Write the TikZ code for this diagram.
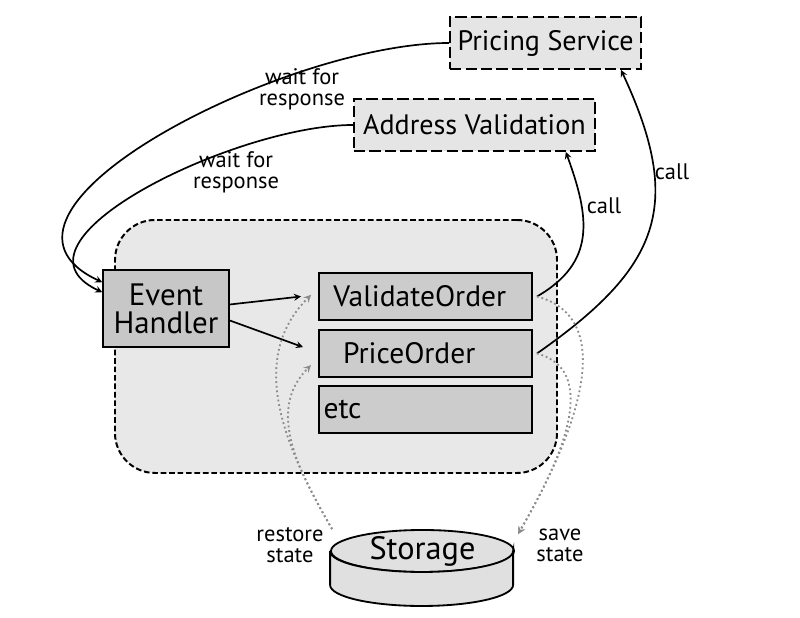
\documentclass[tikz,border=0pt]{standalone}
\usepackage{fontspec}
\setmainfont{PT Sans}
\usetikzlibrary{positioning, calc, shapes.geometric}

\begin{document}
\begin{tikzpicture}[>=stealth, line width=1.2pt,
	extbox/.style={draw, dash pattern=on 8pt off 3pt, line width=1.3pt, fill=black!10, minimum height=1.3cm, font=\fontsize{20}{22}\selectfont},
	taskbox/.style={draw, line width=1.1pt, fill=black!20, minimum height=1.175cm, text width=5.1cm, align=left, font=\fontsize{21}{23}\selectfont},
	note/.style={align=center, font=\fontsize{16}{15}\selectfont},
	statearrow/.style={->, draw=black!45, dotted, line width=1.3pt}]
			\useasboundingbox (0,0) rectangle (20,15.45);
			\node (n3) [draw, rounded corners=1cm, dash pattern=on 4pt off 2pt, line width=1.4pt, fill=black!9, minimum width=11.05cm, minimum height=6.325cm] at (8.4,6.7875) {};
			\node (n1) [extbox, minimum width=4.775cm] at (13.64,14.375) {Pricing Service};
			\node (n2) [extbox, minimum width=6.025cm] at (11.86,12.325) {Address Validation};
			\node (n4) [draw, line width=1.1pt, fill=black!22, minimum width=3.15cm, minimum height=1.925cm, align=center, font=\fontsize{22}{20}\selectfont] at (4.15,7.7375) {Event\\Handler};
			\node (n5) [taskbox] at (10.6375,8.0375) {~ValidateOrder};
			\node (n6) [taskbox] at (10.6375,6.6125) {~~PriceOrder};
			\node (n7) [taskbox] at (10.6375,5.2125) {etc};
			\node (n9) [ellipse, draw, line width=1.3pt, fill=black!12, inner sep=0pt, minimum width=4.575cm, minimum height=1.05cm] at (10.5625,1.675) {};
			\draw [line width=1.3pt, fill=black!12] (n9.west) -- ++(0,-0.85) arc[start angle=180, end angle=360, x radius=2.2875cm, y radius=0.525cm] -- ++(0,0.85) arc[start angle=0, end angle=-180, x radius=2.2875cm, y radius=0.525cm];
			\node (n10) [font=\fontsize{23}{25}\selectfont] at (n9.center) {Storage};
			
			\node (n11) [note] at (7.55,13.225) {wait for\\response};
			\node (n12) [note] at (5.9,11.15) {wait for\\response};
			\node (n13) [note] at (15.1,10.3) {call};
			\node (n14) [note] at (16.8,11.15) {call};
			\node (n15) [note] at (7.25,1.825) {restore\\state};
			\node (n16) [note] at (14.0,1.825) {save\\state};
			
			\draw [->] (n1.west) to[out=180, in=155] ($(n4.north west)+(0,-0.325)$);
			\draw [->] (n2.west) to[out=180, in=155] ($(n4.north west)+(0,-0.575)$);
			\draw [->] ($(n4.east)+(0,0.1)$) -- ($(n5.west)+(-0.425,0)$);
			\draw [->] ($(n4.east)+(0,-0.3)$) -- ($(n6.west)+(-0.375,0.16)$);
			\draw [->] ($(n5.east)+(0.1,0)$) to[out=30, in=-70, looseness=1.2] ($(n2.south east)+(-0.75,0)$);
			\draw [->] ($(n6.east)+(0.1,0)$) to[out=35, in=-65, looseness=1.3] ($(n1.south east)+(-0.525,0)$);
			
			\draw [statearrow] ($(n5.east)+(0.1,0)$) to[out=-15, in=60] ($(n9.north)+(2.39,-0.125)$);
			\draw [statearrow] ($(n6.east)+(0.1,0)$) to[out=-15, in=60] ($(n9.north)+(2.39,-0.125)$);
			\draw [statearrow] ($(n9.north)+(-2.26,0)$) to[out=120, in=-135] ($(n5.west)+(-0.175,0.04)$);
			\draw [statearrow] ($(n9.north)+(-2.26,0)$) to[out=120, in=-135] ($(n6.west)+(-0.175,-0.29)$);
		\end{tikzpicture}
\end{document}
